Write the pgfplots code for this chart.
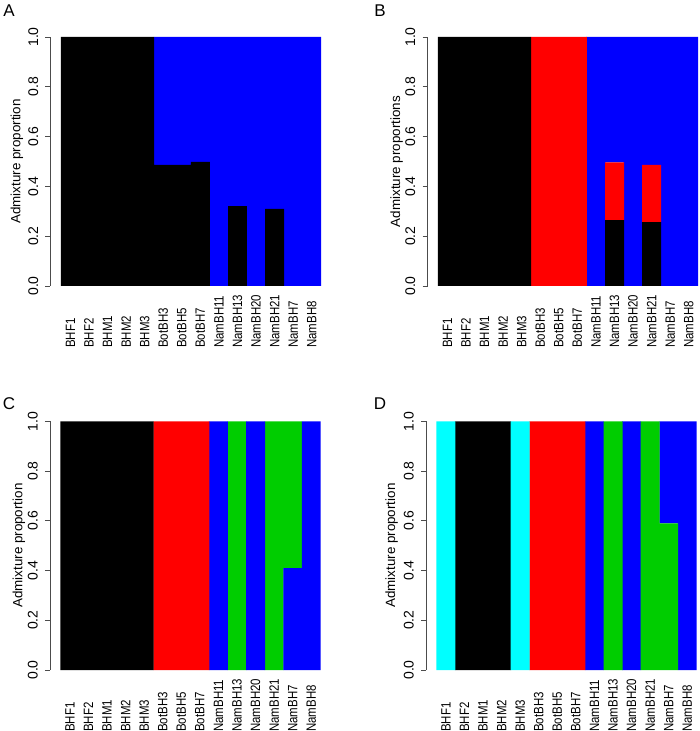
\documentclass[border=0pt]{standalone}
\usepackage{fontspec}
\setmainfont{Liberation Sans}
\usepackage{graphicx}
\usepackage{pgfplots}
\pgfplotsset{compat=1.18}
\definecolor{rgreen}{RGB}{0,205,0}
\definecolor{rblue}{RGB}{0,0,255}
\definecolor{rred}{RGB}{255,0,0}
\definecolor{rcyan}{RGB}{0,255,255}
\newcommand\nm[1]{\scalebox{0.85}[1]{#1}}
\pgfplotsset{adm/.style={
  scale only axis, anchor=south west, width=270.6pt, height=249pt,
  xmin=-1.07, xmax=13.5, ymin=0, ymax=1,
  ybar stacked, bar width=1.02,
  axis lines*=left, x axis line style={draw=none},
  y axis line style={draw=black!70, line width=0.8pt},
  ytick style={draw=black!70, line width=0.8pt},
  tick align=outside, major tick length=5pt,
  xtick={0,...,13},
  xticklabels={\nm{BHF1},\nm{BHF2},\nm{BHM1},\nm{BHM2},\nm{BHM3},\nm{BotBH3},\nm{BotBH5},\nm{BotBH7},\nm{NamBH11},\nm{NamBH13},\nm{NamBH20},\nm{NamBH21},\nm{NamBH7},\nm{NamBH8}},
  xtick style={draw=none},
  xticklabel style={rotate=90, anchor=east, text width=53.5pt, align=left, inner sep=0pt, font=\fontsize{13.5}{15}\selectfont},
  xticklabel shift=3pt,
  ytick={0,0.2,0.4,0.6,0.8,1},
  yticklabel style={rotate=90, anchor=south, inner sep=0pt, font=\fontsize{14}{16}\selectfont},
  yticklabel shift=7pt,
  /pgf/number format/fixed, /pgf/number format/fixed zerofill,
  /pgf/number format/precision=1, /pgf/number format/assume math mode=true,
  ylabel style={anchor=center, font=\fontsize{13.4}{16}\selectfont},
  every axis plot/.append style={draw=none},
}}
\begin{document}
\begin{tikzpicture}
\useasboundingbox (0,0) rectangle (700pt,731pt);
% Panel A
\begin{axis}[adm, at={(50.5pt,445pt)}, ylabel={Admixture proportion},
  ylabel style={at={(axis description cs:-0.124,0.5)}}]
\addplot[fill=black] coordinates {(0,1)(1,1)(2,1)(3,1)(4,1)(5,0.486)(6,0.486)(7,0.498)(8,0)(9,0.321)(10,0)(11,0.31)(12,0)(13,0)};
\addplot[fill=rblue] coordinates {(0,0)(1,0)(2,0)(3,0)(4,0)(5,0.514)(6,0.514)(7,0.502)(8,1)(9,0.679)(10,1)(11,0.69)(12,1)(13,1)};
\end{axis}
% Panel B
\begin{axis}[adm, at={(427.5pt,445pt)}, ylabel={Admixture proportions},
  ylabel style={at={(axis description cs:-0.114,0.5)}}]
\addplot[fill=black] coordinates {(0,1)(1,1)(2,1)(3,1)(4,1)(5,0)(6,0)(7,0)(8,0)(9,0.265)(10,0)(11,0.257)(12,0)(13,0)};
\addplot[fill=rred] coordinates {(0,0)(1,0)(2,0)(3,0)(4,0)(5,1)(6,1)(7,1)(8,0)(9,0.231)(10,0)(11,0.229)(12,0)(13,0)};
\addplot[fill=rblue] coordinates {(0,0)(1,0)(2,0)(3,0)(4,0)(5,0)(6,0)(7,0)(8,1)(9,0.504)(10,1)(11,0.514)(12,1)(13,1)};
\end{axis}
% Panel C
\begin{axis}[adm, at={(50pt,61pt)}, height=248.7pt, ylabel={Admixture proportion},
  ylabel style={at={(axis description cs:-0.115,0.5)}}]
\addplot[fill=black] coordinates {(0,1)(1,1)(2,1)(3,1)(4,1)(5,0)(6,0)(7,0)(8,0)(9,0)(10,0)(11,0)(12,0)(13,0)};
\addplot[fill=rred] coordinates {(0,0)(1,0)(2,0)(3,0)(4,0)(5,1)(6,1)(7,1)(8,0)(9,0)(10,0)(11,0)(12,0)(13,0)};
\addplot[fill=rblue] coordinates {(0,0)(1,0)(2,0)(3,0)(4,0)(5,0)(6,0)(7,0)(8,1)(9,0)(10,1)(11,0)(12,0.41)(13,1)};
\addplot[fill=rgreen] coordinates {(0,0)(1,0)(2,0)(3,0)(4,0)(5,0)(6,0)(7,0)(8,0)(9,1)(10,0)(11,1)(12,0.59)(13,0)};
\end{axis}
% Panel D
\begin{axis}[adm, at={(426pt,61pt)}, height=248.7pt, ylabel={Admixture proportion},
  ylabel style={at={(axis description cs:-0.127,0.5)}}]
\addplot[fill=rcyan] coordinates {(0,1)(1,0)(2,0)(3,0)(4,1)(5,0)(6,0)(7,0)(8,0)(9,0)(10,0)(11,0)(12,0)(13,0)};
\addplot[fill=black] coordinates {(0,0)(1,1)(2,1)(3,1)(4,0)(5,0)(6,0)(7,0)(8,0)(9,0)(10,0)(11,0)(12,0)(13,0)};
\addplot[fill=rred] coordinates {(0,0)(1,0)(2,0)(3,0)(4,0)(5,1)(6,1)(7,1)(8,0)(9,0)(10,0)(11,0)(12,0)(13,0)};
\addplot[fill=rgreen] coordinates {(0,0)(1,0)(2,0)(3,0)(4,0)(5,0)(6,0)(7,0)(8,0)(9,1)(10,0)(11,1)(12,0.59)(13,0)};
\addplot[fill=rblue] coordinates {(0,0)(1,0)(2,0)(3,0)(4,0)(5,0)(6,0)(7,0)(8,1)(9,0)(10,1)(11,0)(12,0.41)(13,1)};
\end{axis}
\node[font=\fontsize{17}{20}\selectfont, inner sep=0pt] at (9pt,720pt) {A};
\node[font=\fontsize{17}{20}\selectfont, inner sep=0pt] at (380pt,720.5pt) {B};
\node[font=\fontsize{17}{20}\selectfont, inner sep=0pt] at (9pt,327pt) {C};
\node[font=\fontsize{17}{20}\selectfont, inner sep=0pt] at (380pt,327.5pt) {D};
\end{tikzpicture}
\end{document}
